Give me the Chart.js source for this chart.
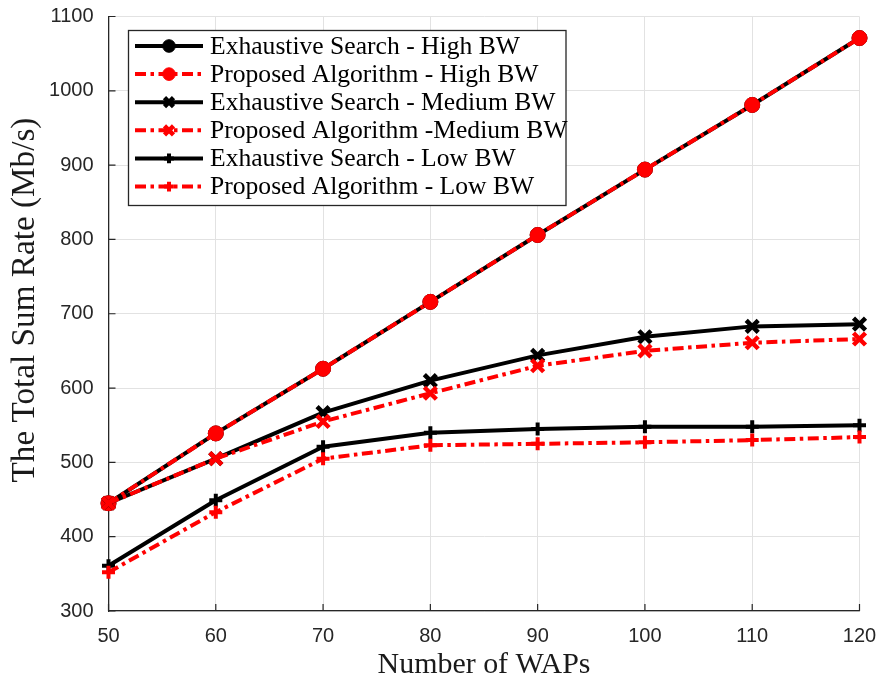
<!DOCTYPE html>
<html>
<head>
<meta charset="utf-8">
<script src="https://cdn.jsdelivr.net/npm/chart.js@4.4.0/dist/chart.umd.min.js"></script>
<style>
html,body{margin:0;padding:0;background:#fff;}
#wrap{width:880px;height:677px;position:relative;}
</style>
</head>
<body>
<div id="wrap"><canvas id="c" width="880" height="677"></canvas></div>
<script>
// ---- data ----
const wapCounts = [50, 60, 70, 80, 90, 100, 110, 120];
const esHigh   = [445, 539, 626, 716, 806, 894, 981, 1071];
const paHigh   = [445, 539, 626, 716, 806, 894, 981, 1071];
const esMedium = [445, 505, 567, 610, 644, 669, 683, 686];
const paMedium = [445, 505, 555, 593, 630, 650, 661, 666];
const esLow    = [361, 449, 521, 540, 545, 548, 548, 550];
const paLow    = [352, 433, 505, 523, 525, 527, 530, 534];
const seriesLabels = [
  'Exhaustive Search - High BW',
  'Proposed Algorithm - High BW',
  'Exhaustive Search - Medium BW',
  'Proposed Algorithm -Medium BW',
  'Exhaustive Search - Low BW',
  'Proposed Algorithm - Low BW'
];
const xTitle = 'Number of WAPs';
const yTitle = 'The Total Sum Rate (Mb/s)';
const xRange = [50, 120], xStep = 10;
const yRange = [300, 1100], yStep = 100;

// ---- font fitting helpers ----
const mctx = document.createElement('canvas').getContext('2d');
function fitSize(text, family, target) {
  mctx.font = '100px ' + family;
  return target * 100 / mctx.measureText(text).width;
}
const SERIF = '"Liberation Serif", "Times New Roman", serif';
const SANS = '"Liberation Sans", Arial, sans-serif';
const xTitleSize = fitSize(xTitle, SERIF, 213);
const yTitleSize = fitSize(yTitle, SERIF, 365);
const legendSize = fitSize(seriesLabels[0], SERIF, 310);

const BLACK = '#000000', RED = '#ff0000';
const DASHDOT = [11, 4.5, 3.5, 4.5];
const toPts = arr => arr.map((v, i) => ({x: wapCounts[i], y: v}));

function mk(label, data, color, dashed, style, radius, pbw, order) {
  return {
    label, data: toPts(data),
    borderColor: color, backgroundColor: color,
    borderWidth: 4, borderDash: dashed ? DASHDOT : [],
    borderCapStyle: 'butt', borderJoinStyle: 'round',
    pointStyle: style, pointRadius: radius, pointBorderWidth: pbw,
    pointBackgroundColor: color, pointBorderColor: color,
    pointHoverRadius: radius,
    tension: 0, fill: false, clip: false, order
  };
}

const datasets = [
  mk(seriesLabels[0], esHigh,   BLACK, false, 'circle',   7.5, 1,   5),
  mk(seriesLabels[1], paHigh,   RED,   true,  'circle',   7.5, 1,   4),
  mk(seriesLabels[2], esMedium, BLACK, false, 'crossRot', 8.5, 4.5, 3),
  mk(seriesLabels[3], paMedium, RED,   true,  'crossRot', 8.5, 4.5, 2),
  mk(seriesLabels[4], esLow,    BLACK, false, 'cross',    6.5, 4,   1),
  mk(seriesLabels[5], paLow,    RED,   true,  'cross',    6.5, 4,   0)
];

const AXIS = '#262626';

const inwardTicks = {
  id: 'inwardTicks',
  beforeDatasetsDraw(chart) {
    const {ctx, chartArea: a, scales: {x, y}} = chart;
    ctx.save();
    ctx.strokeStyle = AXIS; ctx.lineWidth = 1.2;
    ctx.beginPath();
    x.ticks.forEach(t => { const px = x.getPixelForValue(t.value); ctx.moveTo(px, a.bottom); ctx.lineTo(px, a.bottom - 7); });
    y.ticks.forEach(t => { const py = y.getPixelForValue(t.value); ctx.moveTo(a.left, py); ctx.lineTo(a.left + 7, py); });
    ctx.stroke();
    ctx.restore();
  }
};

const yAxisTitle = {
  id: 'yAxisTitle',
  afterDraw(chart) {
    const ctx = chart.ctx;
    ctx.save();
    ctx.translate(25, 300);
    ctx.rotate(-Math.PI / 2);
    ctx.fillStyle = '#1a1a1a';
    ctx.font = yTitleSize.toFixed(2) + 'px ' + SERIF;
    ctx.textAlign = 'center'; ctx.textBaseline = 'middle';
    ctx.fillText(yTitle, 0, 0);
    ctx.restore();
  }
};

const boxLegend = {
  id: 'boxLegend',
  afterDraw(chart) {
    const ctx = chart.ctx;
    const bx = 128.5, by = 30.5, bw = 437.5, bh = 175;
    ctx.save();
    ctx.fillStyle = '#ffffff';
    ctx.fillRect(bx, by, bw, bh);
    ctx.strokeStyle = AXIS; ctx.lineWidth = 1.3;
    ctx.strokeRect(bx, by, bw, bh);
    chart.data.datasets.forEach((ds, i) => {
      const yy = 46 + i * 28.1;
      const x1 = 135, x2 = 203, xm = 169;
      ctx.save();
      ctx.strokeStyle = ds.borderColor; ctx.lineWidth = ds.borderWidth;
      ctx.setLineDash(ds.borderDash || []); ctx.lineCap = 'butt';
      ctx.beginPath(); ctx.moveTo(x1, yy); ctx.lineTo(x2, yy); ctx.stroke();
      ctx.restore();
      ctx.save();
      ctx.setLineDash([]);
      ctx.fillStyle = ds.pointBackgroundColor; ctx.strokeStyle = ds.pointBorderColor;
      ctx.lineWidth = ds.pointBorderWidth;
      Chart.helpers.drawPoint(ctx, {pointStyle: ds.pointStyle, rotation: 0,
        radius: ds.pointStyle === 'circle' ? 6.3 : ds.pointRadius * 0.75, borderWidth: ds.pointBorderWidth}, xm, yy);
      ctx.restore();
      ctx.fillStyle = '#000';
      ctx.font = legendSize.toFixed(2) + 'px ' + SERIF;
      ctx.textBaseline = 'middle'; ctx.textAlign = 'left';
      ctx.fillText(ds.label, 210, yy + 1);
    });
    ctx.restore();
  }
};

new Chart(document.getElementById('c'), {
  type: 'line',
  data: {datasets},
  options: {
    responsive: false, animation: false,
    layout: {padding: {top: 16.5, right: 20.5, left: 0, bottom: 0}},
    plugins: {legend: {display: false}, tooltip: {enabled: false}},
    scales: {
      x: {
        type: 'linear', min: xRange[0], max: xRange[1],
        ticks: {stepSize: xStep, color: AXIS, padding: 13, font: {family: SANS, size: 20},
          callback: v => String(v)},
        grid: {color: '#e2e2e2', lineWidth: 1, drawTicks: false},
        border: {color: AXIS, width: 1.3},
        title: {display: true, text: xTitle, color: '#1a1a1a',
          font: {family: SERIF, size: xTitleSize, lineHeight: 1}, padding: {top: 0, bottom: -3}},
        afterFit: s => { s.height = 66; s.paddingLeft = 0; s.paddingRight = 0; }
      },
      y: {
        type: 'linear', min: yRange[0], max: yRange[1],
        ticks: {stepSize: yStep, color: AXIS, padding: 15, font: {family: SANS, size: 20},
          callback: v => String(v)},
        grid: {color: '#e2e2e2', lineWidth: 1, drawTicks: false},
        border: {color: AXIS, width: 1.3},
        title: {display: false},
        afterFit: s => { s.width = 108.5; s.paddingTop = 0; s.paddingBottom = 0; }
      }
    }
  },
  plugins: [inwardTicks, yAxisTitle, boxLegend]
});
</script>
</body>
</html>
